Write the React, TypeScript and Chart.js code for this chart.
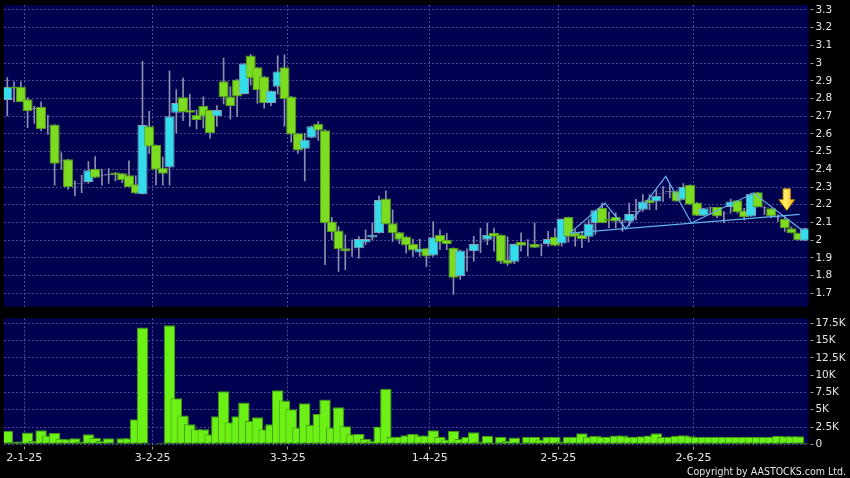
import React, { useEffect, useRef } from "react";
import { Chart, registerables } from "chart.js";

Chart.register(...registerables);

// ---- data (index 0 = 30-12-24 ... index 118 = last session) ----
const openP = [
  2.792, 2.866, 2.867, 2.796, 2.743, 2.752, 2.640, 2.653, 2.448, 2.457,
  2.320, 2.320, 2.329, 2.404, 2.367, 2.372, 2.382, 2.378, 2.367, 2.316,
  2.26, 2.644, 2.538, 2.409, 2.41, 2.719, 2.807, 2.735, 2.709, 2.758,
  2.735, 2.698, 2.897, 2.812, 2.908, 2.825, 3.043, 2.976, 2.925, 2.775,
  2.867, 2.976, 2.812, 2.604, 2.516, 2.578, 2.657, 2.621, 2.105, 2.054,
  1.955, 1.949, 1.955, 1.987, 2.015, 2.039, 2.236, 2.096, 2.045, 2.021,
  1.979, 1.930, 1.955, 1.914, 2.030, 2.002, 1.957, 1.797, 1.906, 1.938,
  1.990, 2.002, 2.041, 2.030, 1.891, 1.878, 1.990, 1.974, 1.979, 1.968,
  1.979, 2.019, 1.981, 2.131, 2.041, 2.030, 2.019, 2.097, 2.182, 2.120,
  2.131, 2.102, 2.106, 2.163, 2.172, 2.228, 2.219, 2.266, 2.276, 2.276,
  2.228, 2.313, 2.213, 2.138, 2.187, 2.187, 2.148, 2.187, 2.225, 2.168,
  2.134, 2.270, 2.187, 2.181, 2.130, 2.119, 2.068, 2.040, 1.997,
];
const closeP = [
  2.867, 2.857, 2.781, 2.730, 2.743, 2.626, 2.640, 2.432, 2.448, 2.301,
  2.320, 2.320, 2.395, 2.353, 2.367, 2.372, 2.367, 2.340, 2.301, 2.263,
  2.65, 2.529, 2.398, 2.375, 2.70, 2.775, 2.724, 2.719, 2.679, 2.698,
  2.606, 2.735, 2.807, 2.758, 2.812, 2.998, 2.916, 2.848, 2.775, 2.844,
  2.953, 2.797, 2.597, 2.507, 2.567, 2.644, 2.619, 2.096, 2.045, 1.949,
  1.936, 1.949, 2.006, 2.006, 2.030, 2.227, 2.090, 2.039, 2.002, 1.970,
  1.942, 1.951, 1.908, 2.017, 1.989, 1.978, 1.788, 1.942, 1.906, 1.979,
  1.990, 2.030, 2.019, 1.878, 1.867, 1.979, 1.968, 1.974, 1.957, 1.968,
  2.007, 1.968, 2.120, 2.019, 2.019, 2.007, 2.094, 2.169, 2.097, 2.110,
  2.106, 2.102, 2.148, 2.163, 2.219, 2.210, 2.251, 2.266, 2.276, 2.219,
  2.300, 2.200, 2.138, 2.181, 2.187, 2.134, 2.148, 2.219, 2.159, 2.131,
  2.262, 2.187, 2.187, 2.134, 2.130, 2.068, 2.040, 1.999, 2.068,
];
const highP = [
  2.918, 2.894, 2.894, 2.805, 2.758, 2.781, 2.705, 2.653, 2.495, 2.457,
  2.335, 2.367, 2.444, 2.472, 2.400, 2.404, 2.382, 2.378, 2.448, 2.363,
  3.01, 2.728, 2.538, 2.469, 2.957, 2.850, 2.916, 2.825, 2.735, 2.810,
  2.735, 2.760, 3.028, 2.867, 2.908, 2.998, 3.05, 2.976, 2.925, 2.844,
  3.041, 3.047, 2.812, 2.604, 2.604, 2.644, 2.670, 2.625, 2.129, 2.077,
  2.030, 2.002, 2.021, 2.058, 2.096, 2.250, 2.278, 2.171, 2.045, 2.021,
  2.006, 2.006, 1.955, 2.105, 2.058, 2.039, 1.957, 1.945, 1.951, 2.022,
  2.069, 2.097, 2.069, 2.030, 2.019, 1.979, 2.041, 2.004, 2.097, 1.979,
  2.050, 2.069, 2.120, 2.131, 2.060, 2.050, 2.116, 2.169, 2.210, 2.16,
  2.154, 2.115, 2.21, 2.23, 2.257, 2.257, 2.285, 2.304, 2.313, 2.28,
  2.319, 2.313, 2.213, 2.181, 2.187, 2.187, 2.163, 2.232, 2.225, 2.18,
  2.266, 2.270, 2.19, 2.181, 2.143, 2.134, 2.075, 2.040, 2.068,
];
const lowP = [
  2.702, 2.781, 2.781, 2.636, 2.660, 2.617, 2.598, 2.310, 2.400, 2.287,
  2.250, 2.269, 2.321, 2.353, 2.310, 2.321, 2.335, 2.325, 2.301, 2.263,
  2.26, 2.488, 2.310, 2.310, 2.310, 2.606, 2.675, 2.642, 2.628, 2.634,
  2.576, 2.642, 2.769, 2.683, 2.698, 2.825, 2.876, 2.773, 2.745, 2.760,
  2.825, 2.642, 2.553, 2.49, 2.334, 2.578, 2.563, 1.861, 2.002, 1.824,
  1.833, 1.908, 1.899, 1.974, 2.002, 2.039, 2.090, 1.993, 1.980, 1.927,
  1.908, 1.908, 1.850, 1.908, 1.946, 1.946, 1.694, 1.778, 1.825, 1.882,
  1.929, 1.975, 1.938, 1.867, 1.857, 1.867, 1.938, 1.910, 1.957, 1.913,
  1.966, 1.968, 1.966, 1.989, 1.966, 1.957, 1.989, 2.032, 2.097, 2.07,
  2.068, 2.05, 2.08, 2.115, 2.163, 2.172, 2.172, 2.219, 2.238, 2.219,
  2.228, 2.200, 2.138, 2.138, 2.144, 2.125, 2.097, 2.153, 2.153, 2.115,
  2.134, 2.187, 2.144, 2.125, 2.106, 2.05, 2.040, 1.999, 1.997,
];
const volume = [
  1930, 340, 390, 1690, 480, 2030, 1260, 1640, 820, 730,
  870, 340, 1450, 920, 480, 870, 150, 870, 870, 3630,
  16900, 150, 0, 240, 17200, 6670, 4160, 2900, 2180, 2180,
  1450, 4060, 7690, 3190, 4060, 6040, 3380, 3920, 2180, 2900,
  7830, 6330, 5080, 2420, 5950, 2800, 4400, 6480, 2420, 5370,
  2610, 1450, 1500, 770, 530, 2560, 8030, 1060, 1110, 1310,
  1500, 1260, 1260, 2030, 1060, 680, 1930, 770, 1060, 1740,
  390, 1210, 240, 1060, 480, 970, 240, 1060, 1060, 680,
  1060, 1110, 390, 1060, 1110, 1600, 1110, 1210, 1110, 1110,
  1260, 1260, 1110, 1110, 1160, 1260, 1600, 1060, 1060, 1210,
  1310, 1160, 1060, 1060, 1060, 1060, 1060, 1060, 1060, 1060,
  1060, 1060, 1060, 1060, 1210, 1160, 1160, 1160, 240,
];

// month boundaries (between sessions) and their labels
const dateTicks = [2.5, 21.5, 41.5, 62.5, 81.5, 101.5];
const dateLabels = ["2-1-25", "3-2-25", "3-3-25", "1-4-25", "2-5-25", "2-6-25"];
const priceTicks = [1.7, 1.8, 1.9, 2.0, 2.1, 2.2, 2.3, 2.4, 2.5, 2.6, 2.7, 2.8, 2.9, 3.0, 3.1, 3.2, 3.3];
const volumeTicks = [0, 2500, 5000, 7500, 10000, 12500, 15000, 17500];

// drawn pattern lines (session index, price)
const zigzagX = [83.2, 88.4, 91.5, 97.4, 101.2, 110.4, 117.6];
const zigzagY = [2.04, 2.209, 2.065, 2.36, 2.097, 2.266, 2.055];
const necklineX = [83.2, 117.2];
const necklineY = [2.04, 2.146];
const arrowX = 115.3;
const arrowTop = 2.29;
const arrowTip = 2.168;

const copyrightText = "Copyright by AASTOCKS.com Ltd.";

const NAVY = "#000050";
const GRID = "#4c4c90";
const TEXT = "#e4e4e4";
const TICK = "#9a9a9a";
const FONT = "DejaVu Sans";
const RIGHT_W = 41.6;
const LEFT_PAD = 3.9;

const plotBackground = {
  id: "plotBackground",
  beforeDraw(chart: any) {
    const { ctx, chartArea: a } = chart;
    ctx.save();
    ctx.fillStyle = NAVY;
    ctx.fillRect(a.left, a.top, a.right - a.left, a.bottom - a.top);
    ctx.restore();
  },
};

const arrowPlugin = {
  id: "arrowPlugin",
  afterDatasetsDraw(chart: any) {
    const { ctx, scales } = chart;
    const cx = scales.x.getPixelForValue(arrowX);
    const yT = scales.y.getPixelForValue(arrowTop);
    const yB = scales.y.getPixelForValue(arrowTip);
    const h = yB - yT;
    const sw = 7.4;
    const hw = 15.8;
    const yh = yT + h * 0.5;
    ctx.save();
    const g = ctx.createLinearGradient(cx - hw / 2, 0, cx + hw / 2, 0);
    g.addColorStop(0, "#ffd21e");
    g.addColorStop(0.45, "#fff06a");
    g.addColorStop(1, "#f0a800");
    ctx.beginPath();
    ctx.moveTo(cx - sw / 2, yT);
    ctx.lineTo(cx + sw / 2, yT);
    ctx.lineTo(cx + sw / 2, yh);
    ctx.lineTo(cx + hw / 2, yh);
    ctx.lineTo(cx, yB);
    ctx.lineTo(cx - hw / 2, yh);
    ctx.lineTo(cx - sw / 2, yh);
    ctx.closePath();
    ctx.fillStyle = g;
    ctx.fill();
    ctx.strokeStyle = "#c88a00";
    ctx.lineWidth = 0.8;
    ctx.stroke();
    ctx.restore();
  },
};

const copyrightPlugin = {
  id: "copyrightPlugin",
  afterDraw(chart: any) {
    const { ctx, width, height } = chart;
    ctx.save();
    ctx.font = `10.5px "DejaVu Sans Condensed", "DejaVu Sans", sans-serif`;
    ctx.fillStyle = TEXT;
    ctx.textAlign = "right";
    ctx.textBaseline = "alphabetic";
    ctx.fillText(copyrightText, width - 4, height - 2.7);
    ctx.restore();
  },
};

const fmtPrice = (v: any) => String(Math.round(Number(v) * 10) / 10);
const fmtVol = (v: any) => (Number(v) === 0 ? "0" : `${Number(v) / 1000}K`);

export default function App() {
  const topRef = useRef<HTMLCanvasElement>(null);
  const botRef = useRef<HTMLCanvasElement>(null);

  useEffect(() => {
    document.body.style.margin = "0";
    document.body.style.background = "#000";
    Chart.defaults.font.family = FONT;

    const idx = openP.map((_, i) => i);
    const isDoji = idx.map((i) => Math.abs(closeP[i] - openP[i]) < 0.004);
    const isUp = idx.map((i) => closeP[i] > openP[i]);

    const bodyData = idx.map((i) => {
      if (isDoji[i]) return { x: i, y: [openP[i] - 0.002, openP[i] + 0.002] };
      return { x: i, y: [Math.min(openP[i], closeP[i]), Math.max(openP[i], closeP[i])] };
    });
    const bodyFill = idx.map((i) => (isDoji[i] ? "#a4a4bc" : isUp[i] ? "#35dcec" : "#7edc20"));
    const bodyBorder = idx.map((i) => (isDoji[i] ? "#a4a4bc" : isUp[i] ? "#8aa2b4" : "#55a018"));
    const wickData = idx.map((i) => ({ x: i, y: [lowP[i], highP[i]] }));

    const xBase = {
      type: "linear" as const,
      min: -0.5,
      max: 118.5,
      offset: false,
      afterBuildTicks: (s: any) => {
        s.ticks = dateTicks.map((v) => ({ value: v }));
      },
    };

    const rightAxis = (min: number, max: number, tickVals: number[], fmt: (v: any) => string) => ({
      type: "linear" as const,
      position: "right" as const,
      min,
      max,
      afterBuildTicks: (s: any) => {
        s.ticks = tickVals.map((v) => ({ value: v }));
      },
      afterFit: (s: any) => {
        s.width = RIGHT_W;
        s.paddingTop = 0;
        s.paddingBottom = 0;
      },
      ticks: {
        color: TEXT,
        font: { family: FONT, size: 10.5 },
        padding: 1,
        callback: fmt,
      },
      grid: {
        color: GRID,
        lineWidth: 1,
        drawTicks: true,
        tickLength: 6,
        tickColor: TICK,
        tickBorderDash: [0, 2.5, 3, 20],
      },
      border: { display: false, dash: [2, 2] },
    });

    // the month ticks sit half a session apart from the bars, so Chart.js's
    // bar ruler is half a session wide: percentages are relative to that.
    const top = new Chart(topRef.current as HTMLCanvasElement, {
      type: "bar",
      data: {
        datasets: [
          {
            type: "line",
            data: zigzagX.map((x, i) => ({ x, y: zigzagY[i] })),
            borderColor: "#62b2ea",
            borderWidth: 1.2,
            pointRadius: 0,
            fill: false,
            order: -2,
          } as any,
          {
            type: "line",
            data: necklineX.map((x, i) => ({ x, y: necklineY[i] })),
            borderColor: "#62b2ea",
            borderWidth: 1.2,
            pointRadius: 0,
            fill: false,
            order: -1,
          } as any,
          {
            type: "bar",
            data: bodyData as any,
            backgroundColor: bodyFill,
            borderColor: bodyBorder,
            borderWidth: 1,
            borderSkipped: false,
            barPercentage: 1.5,
            categoryPercentage: 1,
            grouped: false,
            order: 0,
          } as any,
          {
            type: "bar",
            data: wickData as any,
            backgroundColor: "#8e8eae",
            borderWidth: 0,
            barThickness: 1,
            grouped: false,
            order: 1,
          } as any,
        ],
      },
      options: {
        animation: false,
        responsive: false,
        devicePixelRatio: 1,
        layout: { padding: { left: LEFT_PAD, right: 0, top: 5, bottom: 5.3 } },
        plugins: { legend: { display: false }, tooltip: { enabled: false } },
        scales: {
          x: {
            ...xBase,
            afterFit: (s: any) => {
              s.height = 0;
              s.paddingLeft = 0;
              s.paddingRight = 0;
            },
            ticks: { display: false },
            grid: { color: GRID, lineWidth: 1, drawTicks: false, offset: false },
            border: { display: false, dash: [2, 2] },
          } as any,
          y: rightAxis(1.6243, 3.3282, priceTicks, fmtPrice) as any,
        },
      },
      plugins: [plotBackground, arrowPlugin],
    });

    const bot = new Chart(botRef.current as HTMLCanvasElement, {
      type: "bar",
      data: {
        datasets: [
          {
            data: idx.map((i) => ({ x: i, y: volume[i] })) as any,
            backgroundColor: "#6cf016",
            borderColor: "#3f9a10",
            borderWidth: 1,
            borderSkipped: false,
            barPercentage: 1.7,
            categoryPercentage: 1,
          } as any,
        ],
      },
      options: {
        animation: false,
        responsive: false,
        devicePixelRatio: 1,
        layout: { padding: { left: LEFT_PAD, right: 0, top: 6.3, bottom: 0 } },
        plugins: { legend: { display: false }, tooltip: { enabled: false } },
        scales: {
          x: {
            ...xBase,
            afterFit: (s: any) => {
              s.height = 33.7;
              s.paddingLeft = 0;
              s.paddingRight = 0;
            },
            ticks: {
              color: TEXT,
              font: { family: FONT, size: 11 },
              padding: 1,
              maxRotation: 0,
              autoSkip: false,
              callback: (_v: any, i: number) => dateLabels[i],
            },
            grid: {
              color: GRID,
              lineWidth: 1,
              offset: false,
              drawTicks: true,
              tickLength: 6,
              tickColor: TICK,
              tickBorderDash: [0, 2.5, 3, 20],
            },
            border: { display: false, dash: [2, 2] },
          } as any,
          y: rightAxis(0, 18223, volumeTicks, fmtVol) as any,
        },
      },
      plugins: [plotBackground, copyrightPlugin],
    });

    return () => {
      top.destroy();
      bot.destroy();
    };
  }, []);

  return (
    <div style={{ position: "relative", width: 850, height: 478, background: "#000", overflow: "hidden" }}>
      <canvas
        ref={topRef}
        width={850}
        height={312}
        style={{ position: "absolute", left: 0, top: 0, width: 850, height: 312 }}
      />
      <canvas
        ref={botRef}
        width={850}
        height={166}
        style={{ position: "absolute", left: 0, top: 312, width: 850, height: 166 }}
      />
    </div>
  );
}
